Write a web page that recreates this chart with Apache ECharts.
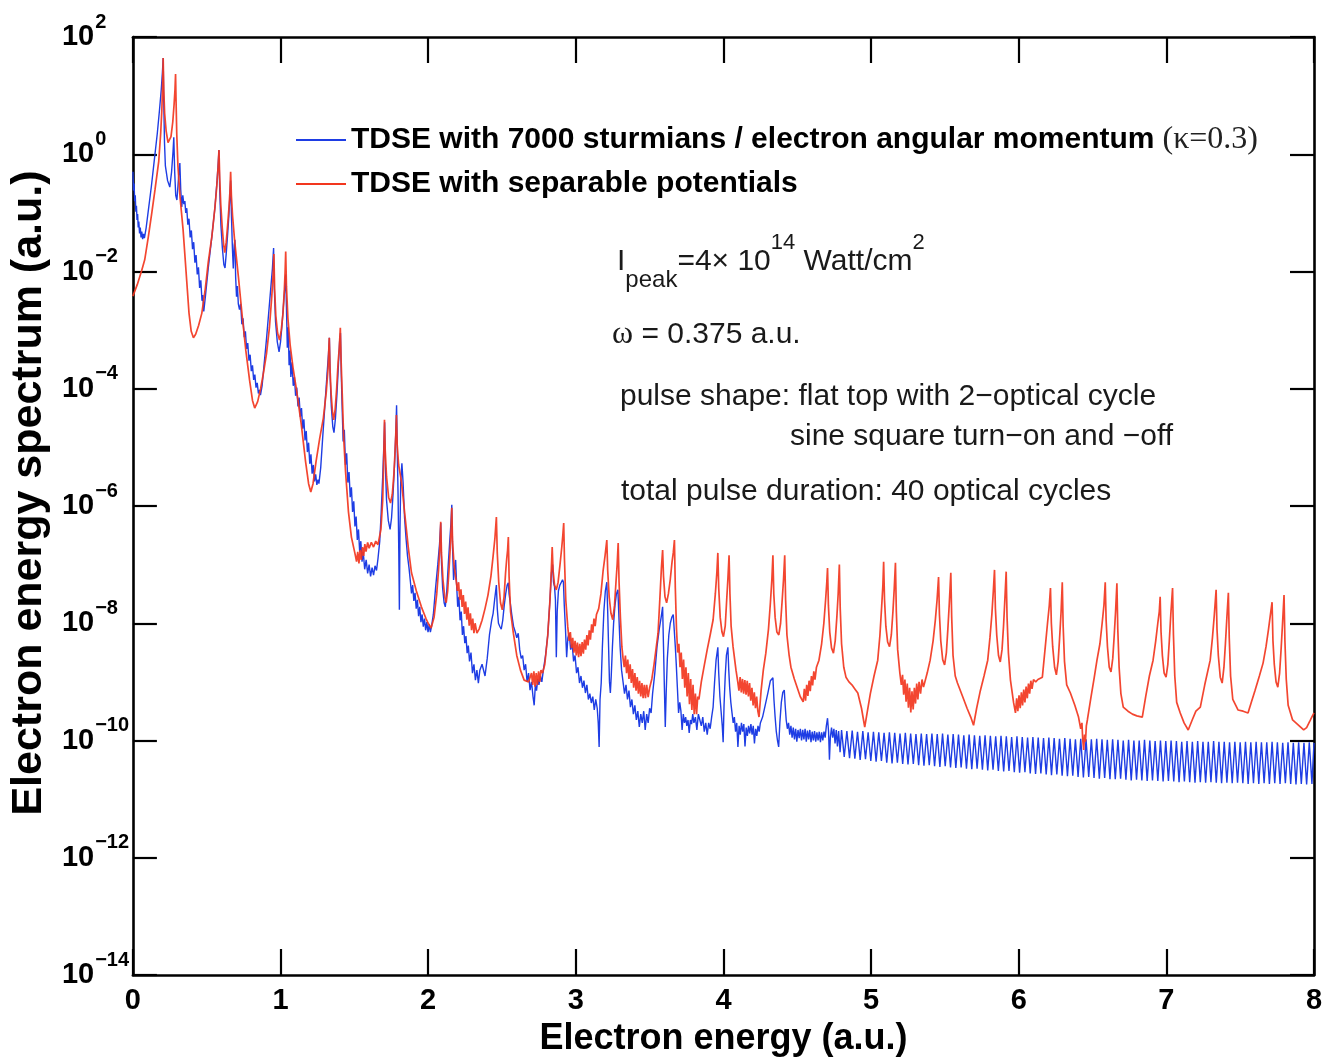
<!DOCTYPE html>
<html>
<head>
<meta charset="utf-8">
<script src="https://cdn.jsdelivr.net/npm/echarts@6/dist/echarts.min.js"></script>
<style>
  html, body { margin: 0; padding: 0; background: #ffffff; }
  #chart { width: 1326px; height: 1062px; }
</style>
</head>
<body>
<div id="chart"></div>
<script>
// Photo-electron energy spectrum, two TDSE calculations.
// Curves are stored as flat [energy, log10(spectrum)] pairs.

const energyTicks = [0, 1, 2, 3, 4, 5, 6, 7, 8];
const decadeTicks = [2, 0, -2, -4, -6, -8, -10, -12, -14];
const seriesNames = [
  'TDSE with 7000 sturmians / electron angular momentum',
  'TDSE with separable potentials'
];

// Sturmian-basis calculation, 0 - 4.8 a.u.
const sturmianLow = [
  0.000,-0.30, 0.004,-0.62, 0.008,-0.50, 0.012,-0.80, 0.016,-0.70, 0.020,-0.98, 0.024,-0.88, 0.028,-1.12, 0.032,-1.02, 0.036,-1.25, 0.040,-1.15, 0.045,-1.35, 0.050,-1.25, 0.055,-1.42, 0.060,-1.32, 0.066,-1.45, 0.072,-1.36, 0.078,-1.43,
  0.090,-1.25, 0.105,-0.95, 0.125,-0.55, 0.145,-0.10, 0.165,0.35, 0.180,0.75, 0.192,1.10, 0.200,1.40, 0.205,1.64,
  0.209,0.90, 0.214,0.20, 0.220,-0.20, 0.235,-0.45, 0.250,-0.56, 0.262,-0.30, 0.272,0.05, 0.277,0.29, 0.283,-0.30, 0.290,-0.70, 0.298,-0.78, 0.305,-0.55, 0.312,-0.30, 0.318,-0.15, 0.324,-0.60, 0.331,-0.90, 0.338,-0.70, 0.345,-0.85,
  0.352,-0.80, 0.358,-1.00, 0.365,-0.92, 0.372,-1.20, 0.380,-1.10, 0.388,-1.42, 0.396,-1.30, 0.404,-1.62, 0.412,-1.50, 0.420,-1.85, 0.428,-1.72, 0.436,-2.05, 0.444,-1.93, 0.452,-2.28, 0.460,-2.15, 0.468,-2.50, 0.474,-2.40, 0.480,-2.68,
  0.490,-2.45, 0.510,-1.95, 0.535,-1.40, 0.556,-0.90, 0.570,-0.45, 0.578,-0.15, 0.583,0.07,
  0.588,-0.60, 0.596,-1.20, 0.606,-1.60, 0.616,-1.88, 0.624,-1.94, 0.632,-1.70, 0.642,-1.35, 0.650,-1.05, 0.656,-0.75, 0.662,-0.45, 0.667,-1.00, 0.674,-1.60, 0.680,-1.95, 0.686,-1.55, 0.691,-1.46, 0.696,-2.10, 0.702,-2.43, 0.708,-2.25, 0.714,-2.55,
  0.722,-2.65, 0.730,-2.55, 0.738,-2.90, 0.746,-2.80, 0.754,-3.12, 0.762,-3.02, 0.770,-3.32, 0.778,-3.22, 0.786,-3.52, 0.794,-3.42, 0.802,-3.70, 0.810,-3.60, 0.818,-3.85, 0.826,-3.76, 0.834,-3.98, 0.842,-3.90, 0.850,-4.08, 0.858,-4.02, 0.864,-4.11,
  0.875,-3.95, 0.890,-3.55, 0.905,-3.15, 0.920,-2.70, 0.935,-2.25, 0.945,-1.95, 0.953,-1.60,
  0.958,-2.30, 0.966,-2.85, 0.978,-3.20, 0.990,-3.37, 1.000,-3.20, 1.012,-2.85, 1.022,-2.50, 1.030,-2.25, 1.035,-2.05, 1.040,-2.60, 1.046,-3.30, 1.052,-2.95, 1.058,-3.60, 1.064,-3.35, 1.070,-3.80, 1.078,-3.55,
  1.086,-3.95, 1.094,-3.80, 1.102,-4.12, 1.110,-3.98, 1.118,-4.30, 1.126,-4.15, 1.134,-4.48, 1.142,-4.33, 1.150,-4.68, 1.158,-4.52, 1.166,-4.88, 1.174,-4.72, 1.182,-5.08, 1.190,-4.92, 1.198,-5.28, 1.206,-5.12, 1.214,-5.45, 1.222,-5.30, 1.230,-5.58, 1.238,-5.46, 1.246,-5.64, 1.254,-5.55, 1.260,-5.62,
  1.272,-5.35, 1.285,-4.85, 1.300,-4.30, 1.315,-3.75, 1.325,-3.40, 1.331,-3.13,
  1.336,-3.80, 1.344,-4.30, 1.354,-4.65, 1.362,-4.75, 1.372,-4.50, 1.382,-4.10, 1.392,-3.60, 1.400,-3.20, 1.406,-3.05, 1.411,-3.70, 1.416,-4.20, 1.424,-4.90, 1.432,-4.70, 1.440,-5.30, 1.448,-5.10, 1.456,-5.60, 1.464,-5.42, 1.472,-5.85, 1.480,-5.68, 1.488,-6.10, 1.496,-5.92, 1.504,-6.35, 1.512,-6.18, 1.520,-6.58, 1.528,-6.40, 1.536,-6.78, 1.544,-6.60, 1.552,-6.95, 1.560,-6.78, 1.570,-7.08, 1.580,-6.92, 1.590,-7.15, 1.600,-7.00, 1.610,-7.20, 1.620,-7.05, 1.630,-7.18, 1.640,-7.02, 1.650,-7.10, 1.660,-6.90,
  1.672,-6.60, 1.682,-6.10, 1.692,-5.50, 1.700,-4.95, 1.705,-4.57,
  1.710,-5.30, 1.718,-5.90, 1.730,-6.25, 1.742,-6.40, 1.752,-6.20, 1.762,-5.80, 1.772,-5.30, 1.780,-4.80, 1.786,-4.28, 1.791,-5.10, 1.796,-5.80, 1.801,-6.80, 1.805,-7.77, 1.809,-6.40, 1.814,-5.60, 1.822,-5.27, 1.830,-5.60, 1.840,-6.20, 1.850,-6.55, 1.860,-6.85, 1.870,-7.05, 1.880,-7.30, 1.887,-7.49,
  1.895,-7.35, 1.903,-7.62, 1.911,-7.48, 1.919,-7.75, 1.927,-7.60, 1.935,-7.88, 1.943,-7.72, 1.951,-7.98, 1.959,-7.85, 1.967,-8.06, 1.975,-7.92, 1.983,-8.12, 1.991,-7.98, 1.999,-8.15, 2.007,-8.02, 2.015,-8.15, 2.023,-8.05,
  2.035,-7.85, 2.050,-7.40, 2.065,-7.00, 2.077,-6.65, 2.085,-6.29,
  2.090,-6.95, 2.098,-7.40, 2.108,-7.65, 2.116,-7.72, 2.126,-7.45, 2.136,-7.00, 2.146,-6.60, 2.154,-6.30, 2.160,-5.98, 2.165,-6.70, 2.172,-7.26, 2.180,-7.05, 2.186,-6.92, 2.192,-7.30, 2.200,-7.72, 2.208,-7.55, 2.216,-7.95, 2.224,-7.80, 2.232,-8.20, 2.240,-8.05, 2.248,-8.34, 2.256,-8.22, 2.264,-8.51, 2.272,-8.38, 2.280,-8.65, 2.290,-8.50, 2.300,-8.85, 2.310,-8.70, 2.320,-8.97, 2.330,-8.80, 2.340,-9.02, 2.350,-8.80, 2.365,-8.70, 2.385,-8.90, 2.400,-8.60, 2.415,-8.20, 2.430,-7.95, 2.440,-7.83, 2.450,-7.60, 2.462,-7.35,
  2.468,-7.75, 2.476,-8.00, 2.486,-8.06, 2.495,-8.10, 2.505,-7.95, 2.515,-7.70, 2.525,-7.50, 2.535,-7.35, 2.543,-7.31,
  2.548,-7.50, 2.556,-7.65, 2.566,-7.85, 2.578,-8.05, 2.590,-8.15, 2.600,-8.25, 2.610,-8.17, 2.620,-8.45, 2.630,-8.60, 2.640,-8.55, 2.650,-8.80, 2.660,-8.70, 2.670,-9.00, 2.680,-8.85, 2.690,-9.14, 2.700,-9.00, 2.710,-9.25, 2.718,-9.40, 2.726,-9.05, 2.734,-9.15, 2.742,-8.95, 2.750,-9.05, 2.760,-8.90, 2.770,-9.00, 2.780,-8.80, 2.795,-8.55, 2.810,-8.20, 2.825,-7.60, 2.835,-7.14, 2.843,-7.00,
  2.849,-7.30, 2.856,-7.38, 2.862,-7.60, 2.868,-8.58, 2.874,-7.80, 2.882,-7.45, 2.892,-7.35, 2.902,-7.30, 2.910,-7.26, 2.916,-7.30,
  2.922,-7.70, 2.930,-8.10, 2.938,-8.58, 2.946,-8.25, 2.955,-8.17, 2.965,-8.45, 2.975,-8.35, 2.985,-8.65, 2.995,-8.55, 3.005,-8.85, 3.015,-8.75, 3.025,-9.02, 3.035,-8.90, 3.045,-9.10, 3.055,-8.98, 3.065,-9.19, 3.075,-9.05, 3.085,-9.30, 3.095,-9.20, 3.105,-9.36, 3.115,-9.25, 3.125,-9.48, 3.135,-9.30, 3.145,-9.45, 3.152,-9.70, 3.158,-10.11, 3.164,-9.30, 3.172,-9.02, 3.180,-8.40, 3.190,-7.80, 3.200,-7.45, 3.210,-7.30,
  3.216,-7.80, 3.222,-8.40, 3.228,-9.00, 3.234,-9.19, 3.240,-8.90, 3.248,-8.40, 3.256,-8.00, 3.265,-7.70, 3.275,-7.50, 3.285,-7.43,
  3.292,-7.90, 3.300,-8.40, 3.310,-8.80, 3.320,-9.00, 3.330,-9.20, 3.340,-9.05, 3.350,-9.30, 3.360,-9.15, 3.370,-9.43, 3.380,-9.30, 3.390,-9.55, 3.400,-9.40, 3.410,-9.65, 3.420,-9.50, 3.430,-9.77, 3.440,-9.55, 3.450,-9.70, 3.460,-9.50, 3.470,-9.82, 3.480,-9.55, 3.490,-9.70, 3.500,-9.45, 3.510,-9.53, 3.520,-9.20, 3.535,-8.85, 3.550,-8.40, 3.565,-8.10, 3.578,-7.90, 3.588,-7.72,
  3.594,-8.40, 3.600,-9.10, 3.606,-9.77, 3.612,-9.20, 3.620,-8.60, 3.630,-8.20, 3.640,-8.00, 3.650,-7.90, 3.660,-7.85, 3.668,-7.83,
  3.674,-8.40, 3.680,-8.68, 3.688,-9.10, 3.696,-9.53, 3.704,-9.35, 3.712,-9.50, 3.720,-9.82, 3.728,-9.55, 3.736,-9.70, 3.744,-9.60, 3.752,-9.75, 3.760,-9.65, 3.768,-9.87, 3.776,-9.65, 3.784,-9.72, 3.792,-9.55, 3.800,-9.70, 3.810,-9.60, 3.820,-9.82, 3.830,-9.55, 3.840,-9.65, 3.850,-9.75, 3.860,-9.60, 3.870,-9.85, 3.880,-9.70, 3.890,-9.90, 3.900,-9.70, 3.910,-9.80, 3.920,-9.60, 3.930,-9.43, 3.940,-9.00, 3.950,-8.63, 3.962,-8.41,
  3.968,-8.85, 3.976,-9.25, 3.984,-9.50, 3.992,-9.75, 3.998,-10.03, 4.004,-9.40, 4.012,-8.90, 4.020,-8.55, 4.030,-8.41,
  4.036,-8.80, 4.042,-9.09, 4.050,-9.35, 4.058,-9.53, 4.066,-9.70, 4.074,-9.60, 4.082,-9.85, 4.090,-9.70, 4.098,-10.11, 4.106,-9.75, 4.114,-9.90, 4.122,-9.70, 4.130,-9.85, 4.138,-9.72, 4.146,-10.10, 4.154,-9.78, 4.162,-9.92, 4.170,-9.75, 4.178,-9.88, 4.186,-9.72, 4.194,-9.90, 4.202,-9.75, 4.210,-10.05, 4.218,-9.80, 4.226,-9.92, 4.234,-9.75, 4.242,-9.85, 4.250,-9.70, 4.265,-9.60, 4.280,-9.43, 4.300,-9.20, 4.318,-8.98, 4.335,-8.93,
  4.342,-9.30, 4.350,-9.60, 4.358,-9.85, 4.366,-10.00, 4.374,-10.11, 4.382,-9.70, 4.392,-9.35, 4.402,-9.18, 4.412,-9.14,
  4.418,-9.40, 4.425,-9.65, 4.433,-9.80, 4.441,-9.70, 4.449,-9.90, 4.457,-9.75, 4.465,-9.95, 4.473,-9.78, 4.481,-9.98, 4.489,-9.80, 4.497,-10.02, 4.505,-9.82, 4.513,-9.96, 4.521,-9.80, 4.529,-10.00, 4.537,-9.82, 4.545,-9.98, 4.553,-9.80, 4.561,-10.02, 4.569,-9.83, 4.577,-9.98, 4.585,-9.82, 4.593,-10.03, 4.601,-9.85, 4.609,-10.00, 4.617,-9.84, 4.625,-10.02, 4.633,-9.86, 4.641,-10.00, 4.649,-9.85, 4.657,-10.03, 4.665,-9.86, 4.673,-10.00, 4.681,-9.85, 4.689,-9.95, 4.697,-9.75, 4.705,-9.62, 4.712,-9.85, 4.718,-10.33, 4.724,-9.95, 4.732,-9.78, 4.740,-9.95, 4.748,-9.80, 4.756,-10.05, 4.764,-9.82, 4.772,-10.10, 4.780,-9.84, 4.790,-10.20
];

// Sturmian-basis calculation, 4.8 - 8 a.u.: the fast ripple of the high-energy tail
const sturmianRipple = [
  4.800,-9.82, 4.818,-10.28, 4.836,-9.84, 4.854,-10.30, 4.872,-9.83, 4.890,-10.31, 4.908,-9.85, 4.926,-10.33, 4.944,-9.84, 4.962,-10.32,
  4.980,-9.86, 4.998,-10.35, 5.016,-9.85, 5.034,-10.36, 5.052,-9.86, 5.070,-10.35, 5.088,-9.87, 5.106,-10.38, 5.124,-9.86, 5.142,-10.39,
  5.160,-9.87, 5.178,-10.38, 5.196,-9.88, 5.214,-10.40, 5.232,-9.87, 5.250,-10.41, 5.268,-9.88, 5.286,-10.40, 5.304,-9.89, 5.322,-10.42,
  5.340,-9.88, 5.358,-10.43, 5.376,-9.89, 5.394,-10.42, 5.412,-9.88, 5.430,-10.44, 5.448,-9.89, 5.466,-10.45, 5.484,-9.88, 5.502,-10.44,
  5.520,-9.90, 5.538,-10.46, 5.556,-9.89, 5.574,-10.47, 5.592,-9.90, 5.610,-10.46, 5.628,-9.91, 5.646,-10.48, 5.664,-9.90, 5.682,-10.49,
  5.700,-9.91, 5.718,-10.48, 5.736,-9.92, 5.754,-10.50, 5.772,-9.91, 5.790,-10.51, 5.808,-9.92, 5.826,-10.50, 5.844,-9.93, 5.862,-10.52,
  5.880,-9.92, 5.898,-10.53, 5.916,-9.93, 5.934,-10.52, 5.952,-9.94, 5.970,-10.54, 5.988,-9.93, 6.006,-10.55, 6.024,-9.94, 6.042,-10.54,
  6.060,-9.95, 6.078,-10.56, 6.096,-9.94, 6.114,-10.57, 6.132,-9.95, 6.150,-10.56, 6.168,-9.96, 6.186,-10.58, 6.204,-9.95, 6.222,-10.59,
  6.240,-9.96, 6.258,-10.58, 6.276,-9.97, 6.294,-10.60, 6.312,-9.96, 6.330,-10.61, 6.348,-9.97, 6.366,-10.60, 6.384,-9.98, 6.402,-10.62,
  6.420,-9.97, 6.438,-10.63, 6.456,-9.98, 6.474,-10.62, 6.492,-9.98, 6.510,-10.64, 6.528,-9.97, 6.546,-10.65, 6.564,-9.98, 6.582,-10.64,
  6.600,-9.99, 6.618,-10.66, 6.636,-9.98, 6.654,-10.66, 6.672,-9.99, 6.690,-10.65, 6.708,-10.00, 6.726,-10.67, 6.744,-9.99, 6.762,-10.68,
  6.780,-10.00, 6.798,-10.67, 6.816,-10.00, 6.834,-10.68, 6.852,-9.99, 6.870,-10.69, 6.888,-10.00, 6.906,-10.68, 6.924,-10.01, 6.942,-10.69,
  6.960,-10.00, 6.978,-10.70, 6.996,-10.01, 7.014,-10.69, 7.032,-10.00, 7.050,-10.70, 7.068,-10.01, 7.086,-10.71, 7.104,-10.02, 7.122,-10.70,
  7.140,-10.01, 7.158,-10.71, 7.176,-10.02, 7.194,-10.72, 7.212,-10.01, 7.230,-10.71, 7.248,-10.02, 7.266,-10.72, 7.284,-10.02, 7.302,-10.71,
  7.320,-10.01, 7.338,-10.72, 7.356,-10.02, 7.374,-10.73, 7.392,-10.02, 7.410,-10.72, 7.428,-10.03, 7.446,-10.73, 7.464,-10.02, 7.482,-10.72,
  7.500,-10.03, 7.518,-10.73, 7.536,-10.02, 7.554,-10.74, 7.572,-10.03, 7.590,-10.73, 7.608,-10.02, 7.626,-10.74, 7.644,-10.03, 7.662,-10.73,
  7.680,-10.03, 7.698,-10.74, 7.716,-10.02, 7.734,-10.73, 7.752,-10.03, 7.770,-10.74, 7.788,-10.04, 7.806,-10.73, 7.824,-10.03, 7.842,-10.74,
  7.860,-10.04, 7.878,-10.75, 7.896,-10.03, 7.914,-10.74, 7.932,-10.04, 7.950,-10.75, 7.968,-10.03, 7.986,-10.74, 8.000,-10.04
];

// Separable-potential calculation, 0 - 8 a.u.
const separable = [
  0.000,-2.42, 0.030,-2.22, 0.060,-1.98, 0.080,-1.80, 0.105,-1.40, 0.128,-1.00, 0.150,-0.60, 0.175,-0.12, 0.188,0.35, 0.196,0.75, 0.201,1.15, 0.205,1.64,
  0.209,1.10, 0.215,0.70, 0.225,0.40, 0.238,0.20, 0.248,0.17, 0.258,0.30, 0.270,0.55, 0.279,0.85, 0.285,1.10, 0.289,1.37,
  0.292,0.95, 0.297,0.35, 0.305,-0.20, 0.320,-0.75, 0.340,-1.29, 0.360,-2.00, 0.380,-2.71, 0.395,-3.02, 0.410,-3.13, 0.425,-3.07, 0.445,-2.92, 0.467,-2.71, 0.490,-2.30, 0.510,-1.85, 0.535,-1.40, 0.556,-0.90, 0.568,-0.55, 0.577,-0.22, 0.583,0.07,
  0.588,-0.40, 0.595,-0.85, 0.605,-1.25, 0.615,-1.55, 0.622,-1.68, 0.632,-1.50, 0.642,-1.20, 0.651,-0.90, 0.657,-0.65, 0.662,-0.30,
  0.667,-0.70, 0.675,-1.05, 0.690,-1.50, 0.715,-2.10, 0.740,-2.75, 0.765,-3.35, 0.790,-3.85, 0.810,-4.20, 0.825,-4.33, 0.845,-4.22, 0.865,-4.00, 0.885,-3.72, 0.905,-3.40, 0.925,-2.95, 0.940,-2.45, 0.950,-2.05, 0.955,-1.70,
  0.960,-2.30, 0.968,-2.75, 0.980,-3.05, 0.993,-3.17, 1.005,-3.00, 1.017,-2.70, 1.026,-2.30, 1.031,-2.00, 1.035,-1.66,
  1.040,-2.25, 1.050,-2.80, 1.065,-3.25, 1.085,-3.65, 1.110,-4.05, 1.140,-4.60, 1.170,-5.25, 1.190,-5.62, 1.205,-5.76, 1.220,-5.62, 1.240,-5.25, 1.265,-4.85, 1.290,-4.50, 1.310,-4.05, 1.322,-3.65, 1.330,-3.13,
  1.335,-3.65, 1.343,-4.10, 1.352,-4.40, 1.360,-4.53, 1.370,-4.35, 1.380,-4.00, 1.390,-3.55, 1.398,-3.30, 1.405,-2.96,
  1.410,-3.50, 1.418,-4.10, 1.428,-4.85, 1.440,-5.40, 1.460,-6.10, 1.480,-6.53, 1.505,-6.82, 1.515,-6.95, 1.523,-6.78, 1.531,-6.98, 1.539,-6.75, 1.547,-6.92, 1.555,-6.70, 1.563,-6.85, 1.571,-6.65, 1.579,-6.78, 1.590,-6.62, 1.600,-6.72, 1.615,-6.62, 1.630,-6.70, 1.645,-6.60, 1.660,-6.66, 1.680,-6.40, 1.692,-5.90, 1.699,-5.20, 1.704,-4.53,
  1.709,-5.05, 1.718,-5.50, 1.732,-5.85, 1.745,-5.95, 1.757,-5.80, 1.768,-5.45, 1.776,-5.05, 1.781,-4.75, 1.785,-4.45,
  1.790,-4.95, 1.800,-5.30, 1.820,-5.60, 1.840,-6.10, 1.865,-6.70, 1.887,-7.14, 1.920,-7.45, 1.954,-7.72, 1.985,-7.92, 2.000,-8.00, 2.020,-8.08, 2.040,-7.90, 2.058,-7.50, 2.070,-7.10, 2.078,-6.75, 2.085,-6.27,
  2.090,-6.80, 2.100,-7.25, 2.112,-7.55, 2.122,-7.65, 2.132,-7.45, 2.142,-7.05, 2.150,-6.70, 2.155,-6.40, 2.160,-6.03,
  2.165,-6.60, 2.175,-7.00, 2.190,-7.28, 2.198,-7.45, 2.206,-7.30, 2.214,-7.60, 2.222,-7.42, 2.230,-7.72, 2.238,-7.52, 2.246,-7.84, 2.254,-7.63, 2.262,-7.94, 2.270,-7.73, 2.278,-8.04, 2.286,-7.83, 2.294,-8.12, 2.302,-7.92, 2.310,-8.17, 2.318,-8.00, 2.330,-8.17, 2.345,-8.10, 2.365,-7.95, 2.385,-7.75, 2.405,-7.52, 2.425,-7.20, 2.440,-6.85, 2.452,-6.55, 2.462,-6.19,
  2.468,-6.80, 2.478,-7.30, 2.490,-7.65, 2.502,-7.77, 2.514,-7.55, 2.524,-7.15, 2.532,-6.90, 2.538,-6.75, 2.543,-6.53,
  2.548,-7.20, 2.558,-7.80, 2.577,-8.17, 2.600,-8.55, 2.625,-8.80, 2.650,-8.97, 2.680,-9.00, 2.700,-8.85, 2.708,-9.05, 2.716,-8.82, 2.724,-9.08, 2.732,-8.85, 2.740,-9.05, 2.748,-8.82, 2.756,-9.00, 2.764,-8.80, 2.775,-8.85, 2.790,-8.70, 2.810,-8.20, 2.825,-7.60, 2.834,-7.10, 2.840,-6.70,
  2.846,-7.10, 2.856,-7.35, 2.868,-7.43, 2.880,-7.30, 2.893,-7.00, 2.905,-6.70, 2.912,-6.50, 2.918,-6.29,
  2.923,-6.90, 2.932,-7.60, 2.945,-8.05, 2.955,-8.30, 2.963,-8.15, 2.971,-8.42, 2.979,-8.25, 2.987,-8.50, 2.995,-8.30, 3.003,-8.55, 3.011,-8.33, 3.019,-8.58, 3.027,-8.35, 3.035,-8.56, 3.043,-8.32, 3.051,-8.52, 3.059,-8.28, 3.067,-8.45, 3.075,-8.20, 3.083,-8.38, 3.091,-8.12, 3.099,-8.28, 3.107,-8.02, 3.115,-8.16, 3.123,-7.92, 3.131,-8.05, 3.140,-7.85, 3.155,-7.75, 3.170,-7.50, 3.185,-7.10, 3.198,-6.85, 3.210,-6.58,
  3.216,-7.10, 3.226,-7.55, 3.238,-7.83, 3.250,-7.94, 3.262,-7.70, 3.272,-7.30, 3.280,-7.00, 3.287,-6.63,
  3.293,-7.30, 3.302,-7.90, 3.312,-8.40, 3.320,-8.60, 3.328,-8.75, 3.336,-8.55, 3.344,-8.85, 3.352,-8.62, 3.360,-8.95, 3.368,-8.70, 3.376,-9.02, 3.384,-8.78, 3.392,-9.10, 3.400,-8.85, 3.408,-9.15, 3.416,-8.92, 3.424,-9.20, 3.432,-8.98, 3.440,-9.25, 3.448,-9.02, 3.456,-9.28, 3.464,-9.05, 3.472,-9.28, 3.480,-9.05, 3.490,-9.26, 3.500,-9.10, 3.515,-8.95, 3.530,-8.70, 3.557,-8.17, 3.570,-7.55, 3.580,-7.05, 3.588,-6.75,
  3.594,-7.20, 3.604,-7.55, 3.615,-7.65, 3.627,-7.50, 3.640,-7.25, 3.652,-6.95, 3.660,-6.80, 3.668,-6.58,
  3.674,-7.40, 3.682,-8.10, 3.690,-8.50, 3.698,-8.35, 3.706,-8.75, 3.714,-8.50, 3.722,-8.95, 3.730,-8.62, 3.738,-9.10, 3.746,-8.75, 3.754,-9.25, 3.762,-8.85, 3.770,-9.38, 3.778,-8.95, 3.786,-9.48, 3.794,-9.05, 3.802,-9.55, 3.810,-9.20, 3.818,-9.55, 3.826,-9.25, 3.834,-9.30, 3.850,-9.00, 3.868,-8.75, 3.890,-8.45, 3.910,-8.20, 3.930,-7.94, 3.945,-7.50, 3.955,-7.15, 3.962,-6.80,
  3.968,-7.40, 3.978,-7.90, 3.990,-8.15, 4.000,-8.23, 4.012,-8.05, 4.022,-7.60, 4.030,-7.25, 4.038,-6.84,
  4.044,-7.50, 4.052,-8.05, 4.065,-8.40, 4.085,-8.80, 4.097,-9.00, 4.105,-9.15, 4.113,-8.92, 4.121,-9.18, 4.129,-8.95, 4.137,-9.20, 4.145,-8.97, 4.153,-9.22, 4.161,-8.98, 4.169,-9.25, 4.177,-9.02, 4.185,-9.32, 4.193,-9.10, 4.201,-9.40, 4.209,-9.18, 4.217,-9.45, 4.225,-9.25, 4.233,-9.50, 4.241,-9.60, 4.255,-9.15, 4.270,-8.80, 4.287,-8.51, 4.305,-8.10, 4.318,-7.65, 4.328,-7.25, 4.335,-6.84,
  4.341,-7.50, 4.350,-7.90, 4.362,-8.15, 4.375,-8.20, 4.387,-8.00, 4.398,-7.60, 4.407,-7.25, 4.415,-6.84,
  4.421,-7.60, 4.430,-8.20, 4.445,-8.55, 4.457,-8.75, 4.480,-8.95, 4.500,-9.10, 4.520,-9.25, 4.540,-9.34, 4.548,-9.12, 4.556,-9.32, 4.564,-9.05, 4.572,-9.24, 4.580,-8.98, 4.588,-9.16, 4.596,-8.90, 4.604,-9.06, 4.612,-8.82, 4.620,-8.96, 4.630,-8.75, 4.647,-8.63, 4.665,-8.35, 4.680,-8.00, 4.692,-7.60, 4.700,-7.30, 4.705,-7.06,
  4.711,-7.70, 4.720,-8.15, 4.732,-8.42, 4.745,-8.51, 4.757,-8.30, 4.768,-7.90, 4.777,-7.50, 4.785,-7.00,
  4.791,-7.75, 4.800,-8.35, 4.815,-8.75, 4.830,-8.92, 4.850,-9.00, 4.870,-9.05, 4.890,-9.12, 4.910,-9.19, 4.935,-9.45, 4.957,-9.77, 4.975,-9.50, 4.995,-9.20, 5.020,-8.90, 5.045,-8.63, 5.060,-8.20, 5.072,-7.70, 5.080,-7.35, 5.085,-6.95,
  5.091,-7.60, 5.100,-8.05, 5.112,-8.32, 5.125,-8.40, 5.137,-8.20, 5.148,-7.80, 5.157,-7.40, 5.165,-6.97,
  5.171,-7.80, 5.180,-8.45, 5.195,-8.85, 5.205,-9.05, 5.213,-8.88, 5.221,-9.22, 5.229,-8.96, 5.237,-9.34, 5.245,-9.03, 5.253,-9.44, 5.261,-9.10, 5.269,-9.52, 5.277,-9.16, 5.285,-9.47, 5.293,-9.10, 5.301,-9.37, 5.309,-9.03, 5.317,-9.30, 5.325,-9.00, 5.335,-9.20, 5.345,-8.96, 5.355,-9.09, 5.380,-8.85, 5.400,-8.63, 5.420,-8.30, 5.435,-7.95, 5.447,-7.60, 5.457,-7.21,
  5.463,-7.85, 5.472,-8.30, 5.485,-8.62, 5.498,-8.71, 5.510,-8.50, 5.520,-8.10, 5.530,-7.65, 5.540,-7.14,
  5.546,-7.90, 5.555,-8.55, 5.570,-8.90, 5.585,-9.02, 5.620,-9.25, 5.650,-9.45, 5.675,-9.60, 5.694,-9.74, 5.715,-9.45, 5.740,-9.15, 5.765,-8.90, 5.790,-8.63, 5.805,-8.25, 5.818,-7.85, 5.828,-7.45, 5.836,-7.09,
  5.842,-7.75, 5.851,-8.20, 5.863,-8.55, 5.875,-8.66, 5.887,-8.45, 5.897,-8.05, 5.906,-7.60, 5.915,-7.12,
  5.921,-7.90, 5.930,-8.50, 5.944,-8.97, 5.965,-9.35, 5.978,-9.53, 5.986,-9.28, 5.994,-9.50, 6.002,-9.23, 6.010,-9.45, 6.018,-9.18, 6.026,-9.40, 6.034,-9.13, 6.042,-9.35, 6.050,-9.08, 6.058,-9.28, 6.066,-9.03, 6.074,-9.20, 6.082,-8.98, 6.090,-9.12, 6.100,-8.96, 6.115,-9.00, 6.130,-8.96, 6.160,-8.92, 6.180,-8.40, 6.195,-8.00, 6.207,-7.70, 6.215,-7.40,
  6.221,-8.00, 6.230,-8.40, 6.243,-8.75, 6.255,-8.88, 6.267,-8.65, 6.277,-8.25, 6.287,-7.80, 6.295,-7.30,
  6.301,-8.05, 6.310,-8.65, 6.325,-9.05, 6.350,-9.19, 6.380,-9.40, 6.405,-9.60, 6.420,-9.80, 6.428,-9.70, 6.434,-10.00, 6.440,-10.16, 6.446,-9.90, 6.452,-10.02, 6.458,-9.75, 6.465,-9.65, 6.490,-9.25, 6.510,-8.95, 6.530,-8.63, 6.550,-8.35, 6.565,-8.00, 6.577,-7.70, 6.586,-7.30,
  6.592,-7.95, 6.601,-8.40, 6.613,-8.75, 6.625,-8.83, 6.637,-8.60, 6.647,-8.20, 6.656,-7.80, 6.665,-7.32,
  6.671,-8.10, 6.680,-8.75, 6.692,-9.20, 6.708,-9.43, 6.740,-9.50, 6.770,-9.55, 6.800,-9.58, 6.837,-9.60, 6.860,-9.25, 6.885,-8.90, 6.910,-8.63, 6.928,-8.30, 6.942,-8.00, 6.952,-7.80, 6.958,-7.55,
  6.964,-8.15, 6.973,-8.55, 6.985,-8.85, 6.998,-8.92, 7.010,-8.70, 7.020,-8.30, 7.030,-7.85, 7.042,-7.40,
  7.048,-8.20, 7.057,-8.90, 7.070,-9.35, 7.094,-9.53, 7.120,-9.70, 7.148,-9.82, 7.175,-9.65, 7.200,-9.50, 7.230,-9.43, 7.260,-9.05, 7.297,-8.63, 7.312,-8.25, 7.325,-7.85, 7.337,-7.43,
  7.343,-8.10, 7.352,-8.55, 7.365,-8.92, 7.378,-9.02, 7.390,-8.75, 7.400,-8.35, 7.410,-7.90, 7.420,-7.48,
  7.426,-8.25, 7.435,-8.90, 7.450,-9.30, 7.486,-9.48, 7.520,-9.50, 7.553,-9.53, 7.575,-9.35, 7.600,-9.15, 7.630,-8.90, 7.655,-8.68, 7.675,-8.40, 7.692,-8.10, 7.705,-7.85, 7.716,-7.64,
  7.722,-8.30, 7.731,-8.70, 7.743,-9.00, 7.755,-9.09, 7.767,-8.85, 7.777,-8.45, 7.787,-8.00, 7.797,-7.52,
  7.803,-8.30, 7.812,-8.95, 7.825,-9.40, 7.855,-9.65, 7.900,-9.75, 7.930,-9.82, 7.950,-9.78, 7.970,-9.68, 7.985,-9.60, 8.000,-9.53
];

// [energy, log10 value] pairs -> [energy, value] points for the log axis
function toPoints(flat) {
  const pts = [];
  for (let i = 0; i < flat.length; i += 2) pts.push([flat[i], Math.pow(10, flat[i + 1])]);
  return pts;
}

const SANS = "'Liberation Sans', Arial, Helvetica, sans-serif";
const SERIF = "'Liberation Serif', 'Times New Roman', serif";
const INK = '#000000';
const BLUE = '#1e3de4';
const RED = '#f2361e';

const frameLine = { show: true, onZero: false, lineStyle: { color: INK, width: 2.6 } };
const xTick = { show: true, inside: true, length: 26, lineStyle: { color: INK, width: 2.2 } };
const yTick = { show: true, inside: true, length: 24, lineStyle: { color: INK, width: 2.2 } };

function minusSign(n) { return n < 0 ? '\u2212' + (-n) : String(n); }

const chart = echarts.init(document.getElementById('chart'), null, { renderer: 'canvas' });

chart.setOption({
  animation: false,
  backgroundColor: '#ffffff',
  grid: { left: 131, right: 12, top: 37, bottom: 87, containLabel: false },
  xAxis: [
    {
      type: 'value', min: energyTicks[0], max: energyTicks[energyTicks.length - 1], interval: 1,
      position: 'bottom',
      axisLine: frameLine, axisTick: xTick, splitLine: { show: false },
      axisLabel: {
        show: true, margin: 11, color: INK, fontFamily: SANS, fontWeight: 'bold', fontSize: 29,
        showMinLabel: true, showMaxLabel: true,
        formatter: v => String(v)
      },
      name: 'Electron energy (a.u.)', nameLocation: 'middle', nameGap: 46,
      nameTextStyle: { color: INK, fontFamily: SANS, fontWeight: 'bold', fontSize: 36 }
    },
    {
      type: 'value', min: energyTicks[0], max: energyTicks[energyTicks.length - 1], interval: 1,
      position: 'top',
      axisLine: frameLine, axisTick: xTick, splitLine: { show: false }, axisLabel: { show: false }
    }
  ],
  yAxis: [
    {
      type: 'log', logBase: 10,
      min: Math.pow(10, decadeTicks[decadeTicks.length - 1]), max: Math.pow(10, decadeTicks[0]),
      interval: 2,
      position: 'left',
      axisLine: frameLine, axisTick: yTick, splitLine: { show: false }, minorTick: { show: false },
      axisLabel: {
        show: true, margin: 71, align: 'left', showMinLabel: true, showMaxLabel: true,
        formatter: v => '{a|10}{e|' + minusSign(Math.round(Math.log10(v))) + '}',
        rich: {
          a: { color: INK, fontFamily: SANS, fontWeight: 'bold', fontSize: 29, lineHeight: 50, verticalAlign: 'middle' },
          e: { color: INK, fontFamily: SANS, fontWeight: 'bold', fontSize: 20, lineHeight: 22, verticalAlign: 'top', padding: [0, 0, 0, 1] }
        }
      },
      name: 'Electron energy spectrum (a.u.)', nameLocation: 'middle', nameGap: 66, nameRotate: 90,
      nameTextStyle: { color: INK, fontFamily: SANS, fontWeight: 'bold', fontSize: 43, padding: [0, 0, 0, 26] }
    },
    {
      type: 'log', logBase: 10,
      min: Math.pow(10, decadeTicks[decadeTicks.length - 1]), max: Math.pow(10, decadeTicks[0]),
      interval: 2,
      position: 'right',
      axisLine: frameLine, axisTick: yTick, splitLine: { show: false }, axisLabel: { show: false }
    }
  ],
  legend: {
    show: true, orient: 'vertical', left: 296, top: 122, padding: 0,
    icon: 'rect', itemWidth: 50, itemHeight: 2, itemGap: 8,
    selectedMode: false,
    data: seriesNames,
    formatter: name => name === seriesNames[0]
      ? '{b|' + name + '}{k| (\u03ba=0.3)}'
      : '{b|' + name + '}',
    textStyle: {
      color: INK, fontSize: 30, lineHeight: 36,
      rich: {
        b: { color: INK, fontFamily: SANS, fontWeight: 'bold', fontSize: 30, lineHeight: 36 },
        k: { color: '#222222', fontFamily: SERIF, fontSize: 32, lineHeight: 36 }
      }
    }
  },
  graphic: [
    {
      type: 'text', x: 617, y: 262, silent: true,
      style: {
        text: '{n|I}{s|peak}{n|=4\u00d7 10}{p|14}{n| Watt/cm}{p|2}',
        verticalAlign: 'middle', align: 'left',
        rich: {
          n: { fontFamily: SANS, fontSize: 30, lineHeight: 60, verticalAlign: 'middle', fill: '#1a1a1a' },
          s: { fontFamily: SANS, fontSize: 24, lineHeight: 26, verticalAlign: 'bottom', fill: '#1a1a1a' },
          p: { fontFamily: SANS, fontSize: 22, lineHeight: 24, verticalAlign: 'top', fill: '#1a1a1a' }
        }
      }
    },
    {
      type: 'text', x: 612, y: 335, silent: true,
      style: {
        text: '{w|\u03c9}{n| = 0.375 a.u.}',
        verticalAlign: 'middle', align: 'left',
        rich: {
          w: { fontFamily: SERIF, fontSize: 32, fill: '#1a1a1a' },
          n: { fontFamily: SANS, fontSize: 30, fill: '#1a1a1a' }
        }
      }
    },
    {
      type: 'text', x: 620, y: 397, silent: true,
      style: {
        text: 'pulse shape: flat top with 2\u2212optical cycle',
        fontFamily: SANS, fontSize: 30, fill: '#1a1a1a', verticalAlign: 'middle', align: 'left'
      }
    },
    {
      type: 'text', x: 790, y: 437, silent: true,
      style: {
        text: 'sine square turn\u2212on and \u2212off',
        fontFamily: SANS, fontSize: 30, fill: '#1a1a1a', verticalAlign: 'middle', align: 'left'
      }
    },
    {
      type: 'text', x: 621, y: 492, silent: true,
      style: {
        text: 'total pulse duration: 40 optical cycles',
        fontFamily: SANS, fontSize: 30, fill: '#1a1a1a', verticalAlign: 'middle', align: 'left'
      }
    }
  ],
  series: [
    {
      name: seriesNames[0], type: 'line', xAxisIndex: 0, yAxisIndex: 0,
      data: toPoints(sturmianLow.concat(sturmianRipple)),
      showSymbol: false, symbol: 'none', silent: true, clip: true,
      color: BLUE, lineStyle: { color: BLUE, width: 1.4 }, z: 2
    },
    {
      name: seriesNames[1], type: 'line', xAxisIndex: 0, yAxisIndex: 0,
      data: toPoints(separable),
      showSymbol: false, symbol: 'none', silent: true, clip: true,
      color: RED, lineStyle: { color: RED, width: 1.7, opacity: 0.92 }, z: 3
    }
  ]
});
</script>
</body>
</html>
